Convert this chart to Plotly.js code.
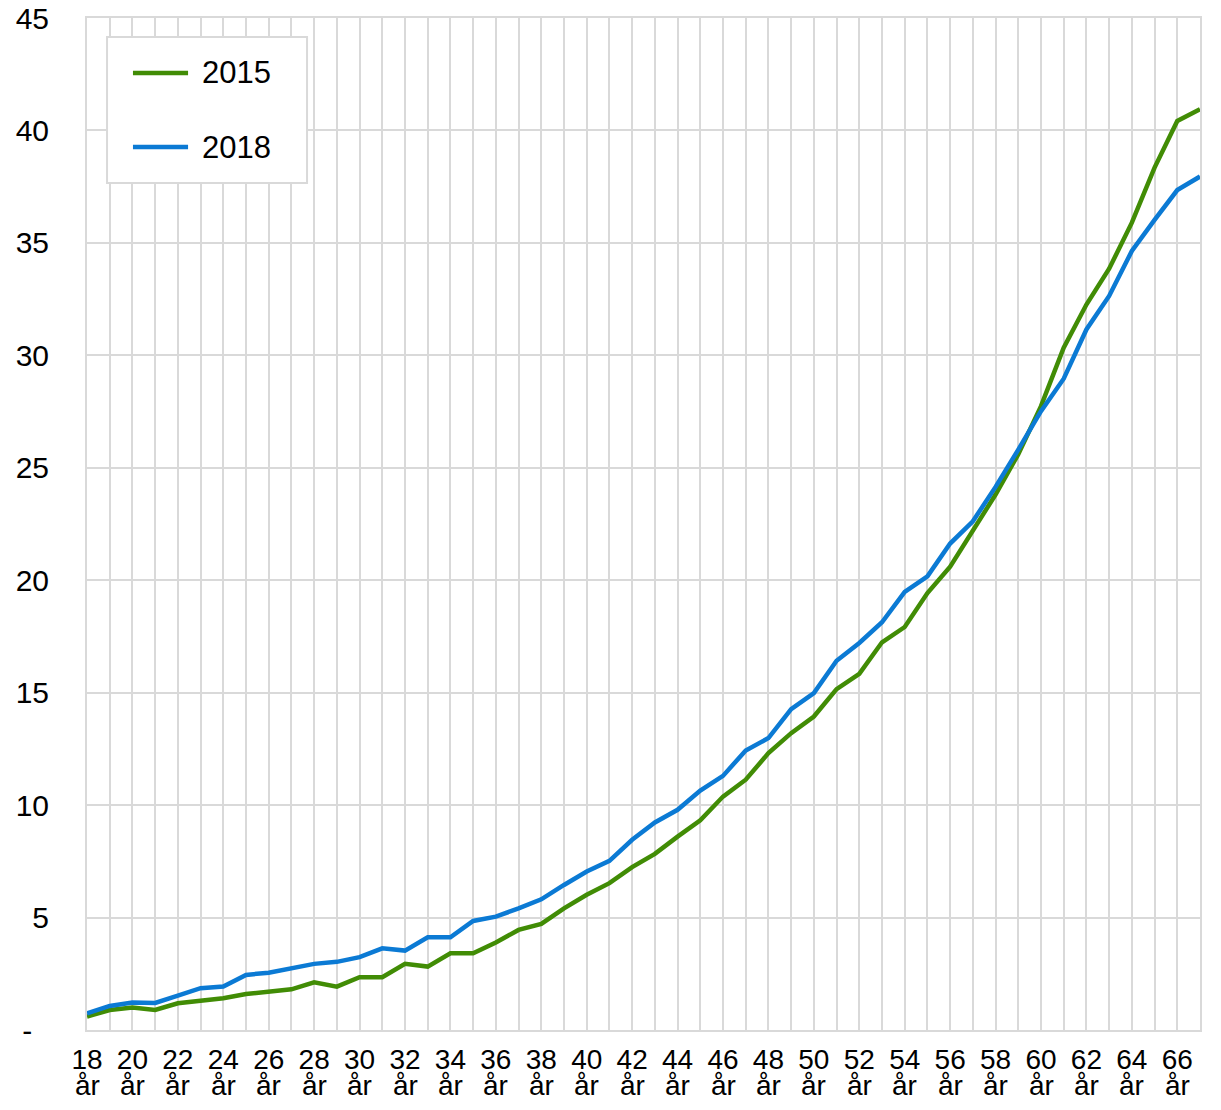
<!DOCTYPE html>
<html>
<head>
<meta charset="utf-8">
<script src="https://cdn.plot.ly/plotly-3.0.1.min.js"></script>
<style>html,body{margin:0;padding:0;background:#fff;}#chart{width:1221px;height:1110px;}</style>
</head>
<body>
<div id="chart"></div>
<script>
// Ages (categories)
const ages = [18,19,20,21,22,23,24,25,26,27,28,29,30,31,32,33,34,35,36,37,38,39,40,41,42,
              43,44,45,46,47,48,49,50,51,52,53,54,55,56,57,58,59,60,61,62,63,64,65,66,67];
const seriesNames = ["2015", "2018"];
const values2015 = [0.6,0.89,1.0,0.89,1.19,1.31,1.41,1.6,1.71,1.81,2.12,1.93,2.35,2.35,2.94,2.82,3.41,3.41,3.89,4.45,
                    4.72,5.41,6.01,6.53,7.24,7.83,8.6,9.32,10.38,11.13,12.31,13.2,13.94,15.16,15.84,17.24,17.92,19.43,20.6,22.25,
                    23.81,25.6,27.74,30.34,32.26,33.85,35.9,38.35,40.42,40.94];
const values2018 = [0.74,1.07,1.22,1.2,1.53,1.86,1.93,2.45,2.55,2.76,2.94,3.03,3.24,3.63,3.53,4.12,4.12,4.85,5.04,5.41,
                    5.81,6.45,7.05,7.52,8.46,9.23,9.79,10.65,11.3,12.43,12.98,14.27,14.98,16.42,17.21,18.13,19.48,20.17,21.63,22.62,
                    24.15,25.81,27.52,28.96,31.15,32.64,34.64,36.02,37.35,37.95];
const yTickVals = [0,5,10,15,20,25,30,35,40,45];
const yTickText = ["-\u00a0\u00a0","5","10","15","20","25","30","35","40","45"];
const unit = "år";

const colors = ["#418C05", "#0B7AD4"];
const gridColor = "#d9d9d9";
const fontFam = "Liberation Sans, Arial, sans-serif";

const traces = [values2015, values2018].map((vals, i) => ({
  type: "scatter", mode: "lines", name: seriesNames[i],
  x: ages, y: vals,
  line: {color: colors[i], width: 4.5},
  showlegend: false
}));

const xTickText = ages.map(a => a % 2 === 0 ? String(a) : "");
const annotations = ages.filter(a => a % 2 === 0).map(a => ({
  x: a, xref: "x", y: 0, yref: "paper", text: unit, showarrow: false,
  yanchor: "middle", yshift: -55, font: {family: fontFam, size: 28, color: "#000"}
}));

// Custom legend box (paper coordinates)
const legendBox = {x0: 0.018, x1: 0.1977, y0: 0.837, y1: 0.9812};
const legendRows = [0.9457, 0.8725];
const shapes = [{
  type: "rect", xref: "paper", yref: "paper",
  x0: legendBox.x0, x1: legendBox.x1, y0: legendBox.y0, y1: legendBox.y1,
  fillcolor: "#fff", line: {color: gridColor, width: 2}, layer: "above"
}];
seriesNames.forEach((nm, i) => {
  shapes.push({
    type: "line", xref: "paper", yref: "paper",
    x0: 0.0413, x1: 0.0908, y0: legendRows[i], y1: legendRows[i],
    line: {color: colors[i], width: 4.5}, layer: "above"
  });
  annotations.push({
    x: 0.1015, xref: "paper", y: legendRows[i], yref: "paper", text: nm,
    showarrow: false, xanchor: "left", yanchor: "middle",
    font: {family: fontFam, size: 31, color: "#000"}
  });
});

const layout = {
  width: 1221, height: 1110,
  margin: {l: 87, r: 21, t: 18, b: 80},
  paper_bgcolor: "#fff", plot_bgcolor: "#fff",
  font: {family: fontFam, size: 28, color: "#000"},
  showlegend: false,
  xaxis: {
    type: "linear", range: [18, 67],
    tickmode: "array", tickvals: ages, ticktext: xTickText,
    showgrid: true, gridcolor: gridColor, gridwidth: 2,
    zeroline: false, showline: true, mirror: true, linecolor: gridColor, linewidth: 2,
    ticks: "", ticklabelstandoff: 3, tickfont: {family: fontFam, size: 28, color: "#000"}
  },
  yaxis: {
    range: [0, 45],
    tickmode: "array", tickvals: yTickVals, ticktext: yTickText,
    showgrid: true, gridcolor: gridColor, gridwidth: 2,
    zeroline: false, showline: true, mirror: true, linecolor: gridColor, linewidth: 2,
    ticks: "", ticklabelstandoff: 30, tickfont: {family: fontFam, size: 30, color: "#000"}
  },
  shapes: shapes,
  annotations: annotations
};

Plotly.newPlot("chart", traces, layout, {displayModeBar: false, staticPlot: true});
</script>
</body>
</html>
